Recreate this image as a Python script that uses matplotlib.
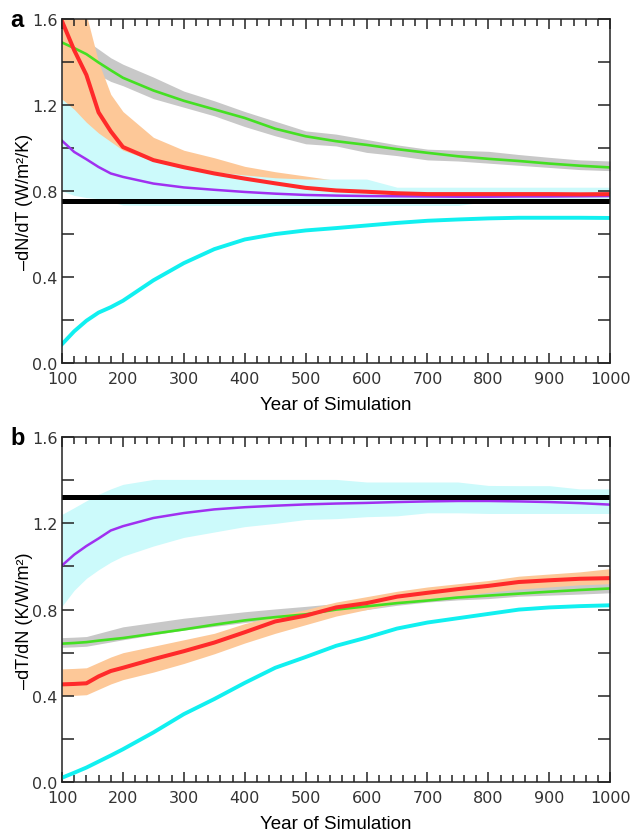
import numpy as np
import matplotlib
matplotlib.use('Agg')
import matplotlib.pyplot as plt
from matplotlib.ticker import MultipleLocator, FixedLocator

plt.rcParams['font.family'] = ['Liberation Sans', 'DejaVu Sans']

years = [100, 120, 140, 160, 180, 200, 250, 300, 350, 400, 450, 500,
         550, 600, 650, 700, 750, 800, 850, 900, 950, 1000]

# panel a: -dN/dT
red_a = [1.59, 1.455, 1.34, 1.166, 1.078, 1.005, 0.944, 0.911, 0.882, 0.858, 0.836, 0.815,
         0.803, 0.797, 0.790, 0.786, 0.786, 0.786, 0.786, 0.786, 0.785, 0.786]
green_a = [1.491, 1.465, 1.437, 1.398, 1.362, 1.327, 1.268, 1.22, 1.18, 1.14, 1.09, 1.055,
           1.032, 1.015, 0.995, 0.978, 0.962, 0.95, 0.94, 0.928, 0.918, 0.91]
purple_a = [1.034, 0.982, 0.948, 0.912, 0.882, 0.866, 0.835, 0.817, 0.806, 0.796, 0.788, 0.782,
            0.779, 0.777, 0.776, 0.775, 0.774, 0.774, 0.775, 0.775, 0.776, 0.777]
cyan_a = [0.088, 0.148, 0.197, 0.235, 0.26, 0.29, 0.385, 0.465, 0.53, 0.575, 0.60, 0.617,
          0.628, 0.64, 0.652, 0.662, 0.668, 0.673, 0.676, 0.676, 0.676, 0.675]
gray_hi_a = [1.56, 1.53, 1.50, 1.46, 1.42, 1.39, 1.33, 1.265, 1.22, 1.17, 1.125, 1.08,
             1.065, 1.04, 1.015, 0.995, 0.99, 0.985, 0.97, 0.957, 0.945, 0.94]
gray_lo_a = [1.44, 1.41, 1.38, 1.34, 1.31, 1.29, 1.23, 1.19, 1.15, 1.10, 1.057, 1.02,
             1.01, 0.98, 0.965, 0.945, 0.94, 0.93, 0.92, 0.91, 0.90, 0.895]
orange_hi_a = [1.75, 1.70, 1.62, 1.40, 1.25, 1.17, 1.05, 0.99, 0.955, 0.915, 0.89, 0.87,
               0.85, 0.835, 0.815, 0.81, 0.805, 0.80, 0.80, 0.80, 0.80, 0.80]
orange_lo_a = [1.22, 1.15, 1.08, 1.02, 0.98, 0.95, 0.91, 0.88, 0.86, 0.84, 0.83, 0.82,
               0.81, 0.80, 0.80, 0.79, 0.79, 0.79, 0.79, 0.79, 0.79, 0.79]
cyan_hi_a = [1.228, 1.18, 1.12, 1.07, 1.03, 0.99, 0.94, 0.905, 0.89, 0.875, 0.862, 0.856,
             0.856, 0.856, 0.818, 0.818, 0.818, 0.818, 0.818, 0.818, 0.818, 0.818]
cyan_lo_a = [0.80, 0.78, 0.77, 0.765, 0.75, 0.735, 0.733, 0.733, 0.733, 0.733, 0.733, 0.733,
             0.733, 0.733, 0.733, 0.733, 0.733, 0.752, 0.752, 0.752, 0.752, 0.752]
ref_a = 0.753

# panel b: -dT/dN
red_b = [0.453, 0.455, 0.458, 0.49, 0.515, 0.53, 0.57, 0.607, 0.647, 0.695, 0.745, 0.772,
         0.81, 0.83, 0.86, 0.878, 0.895, 0.91, 0.928, 0.936, 0.943, 0.946]
green_b = [0.642, 0.645, 0.649, 0.656, 0.662, 0.668, 0.688, 0.708, 0.73, 0.75, 0.765, 0.778,
           0.80, 0.815, 0.83, 0.842, 0.856, 0.865, 0.874, 0.883, 0.891, 0.898]
purple_b = [1.005, 1.055, 1.095, 1.13, 1.167, 1.187, 1.225, 1.248, 1.265, 1.275, 1.282, 1.288,
            1.292, 1.295, 1.299, 1.302, 1.304, 1.304, 1.302, 1.299, 1.294, 1.287]
cyan_b = [0.02, 0.043, 0.067, 0.095, 0.123, 0.152, 0.23, 0.315, 0.385, 0.46, 0.53, 0.58,
          0.632, 0.67, 0.712, 0.74, 0.76, 0.78, 0.80, 0.81, 0.816, 0.82]
gray_hi_b = [0.67, 0.672, 0.675, 0.69, 0.705, 0.72, 0.74, 0.76, 0.775, 0.79, 0.803, 0.815,
             0.828, 0.84, 0.853, 0.865, 0.88, 0.895, 0.905, 0.915, 0.92, 0.925]
gray_lo_b = [0.625, 0.627, 0.63, 0.64, 0.65, 0.66, 0.683, 0.705, 0.722, 0.74, 0.755, 0.77,
             0.785, 0.80, 0.82, 0.835, 0.845, 0.851, 0.862, 0.867, 0.872, 0.878]
orange_hi_b = [0.525, 0.527, 0.53, 0.555, 0.58, 0.60, 0.63, 0.66, 0.69, 0.735, 0.77, 0.80,
               0.835, 0.86, 0.885, 0.905, 0.92, 0.935, 0.955, 0.965, 0.975, 0.99]
orange_lo_b = [0.40, 0.402, 0.405, 0.43, 0.455, 0.475, 0.51, 0.55, 0.595, 0.645, 0.69, 0.73,
               0.77, 0.80, 0.83, 0.85, 0.865, 0.88, 0.895, 0.905, 0.915, 0.92]
cyan_hi_b = [1.242, 1.273, 1.305, 1.335, 1.36, 1.381, 1.404, 1.404, 1.404, 1.404, 1.404, 1.404,
             1.404, 1.392, 1.392, 1.392, 1.392, 1.376, 1.375, 1.375, 1.36, 1.36]
cyan_lo_b = [0.816, 0.89, 0.945, 0.985, 1.02, 1.048, 1.095, 1.135, 1.16, 1.185, 1.20, 1.218,
             1.222, 1.231, 1.235, 1.249, 1.249, 1.246, 1.246, 1.246, 1.246, 1.246]
ref_b = 1.322

GRAY = '#c8c8c8'
ORANGE = '#fdc898'
LCYAN = '#ccfafb'


def panel(ax, bands, lines, ref, ylabel, letter):
    for lo, hi, c in bands:
        ax.fill_between(years, lo, hi, color=c, lw=0)
    for y, c, w in lines:
        ax.plot(years, y, color=c, lw=w, solid_joinstyle='round')
    ax.axhline(ref, color='black', lw=3.6)
    ax.set_xlim(100, 1000)
    ax.set_ylim(0, 1.6)
    ax.xaxis.set_major_locator(MultipleLocator(100))
    ax.xaxis.set_minor_locator(MultipleLocator(20))
    ax.yaxis.set_major_locator(MultipleLocator(0.4))
    ax.yaxis.set_minor_locator(FixedLocator([0.2, 0.6, 1.0, 1.4]))
    ax.yaxis.set_major_formatter(plt.FuncFormatter(lambda v, p: f'{v:.1f}'))
    ax.tick_params(which='both', direction='in', top=True, right=True,
                   width=1.1, colors='#222222')
    ax.tick_params(axis='x', which='major', length=7.5, pad=6)
    ax.tick_params(axis='x', which='minor', length=4.8)
    ax.tick_params(axis='y', which='both', length=8.5, pad=3)
    for lab in ax.get_xticklabels() + ax.get_yticklabels():
        lab.set_fontfamily('DejaVu Sans')
        lab.set_fontsize(11.5)
        lab.set_color('#333333')
    for s in ax.spines.values():
        s.set_linewidth(1.1)
        s.set_color('#222222')
    ax.set_xlabel('Year of Simulation', fontsize=13.5, labelpad=7)
    ax.set_ylabel(ylabel, fontsize=13)
    ax.yaxis.set_label_coords(-0.053, 0.47)
    bb = ax.get_position()
    ax.figure.text(10 / 633, bb.y1 - 7 / 837, letter, fontsize=17, fontweight='bold',
                   va='baseline', ha='left')


fig = plt.figure(figsize=(6.33, 8.37), dpi=100)
ax1 = fig.add_axes([0.098, 0.565, 0.866, 0.411])
ax2 = fig.add_axes([0.098, 0.0645, 0.866, 0.412])

panel(ax1,
      [(gray_lo_a, gray_hi_a, GRAY), (orange_lo_a, orange_hi_a, ORANGE), (cyan_lo_a, cyan_hi_a, LCYAN)],
      [(cyan_a, '#11f0f0', 2.8), (green_a, '#44e022', 1.9), (purple_a, '#a030f0', 1.8),
       (red_a, '#ff2a2a', 2.9)],
      ref_a, '–dN/dT (W/m²/K)', 'a')
panel(ax2,
      [(gray_lo_b, gray_hi_b, GRAY), (orange_lo_b, orange_hi_b, ORANGE), (cyan_lo_b, cyan_hi_b, LCYAN)],
      [(cyan_b, '#11f0f0', 2.8), (green_b, '#44e022', 1.9), (purple_b, '#a030f0', 1.8),
       (red_b, '#ff2a2a', 2.9)],
      ref_b, '–dT/dN (K/W/m²)', 'b')

fig.savefig('out.png', dpi=100)
